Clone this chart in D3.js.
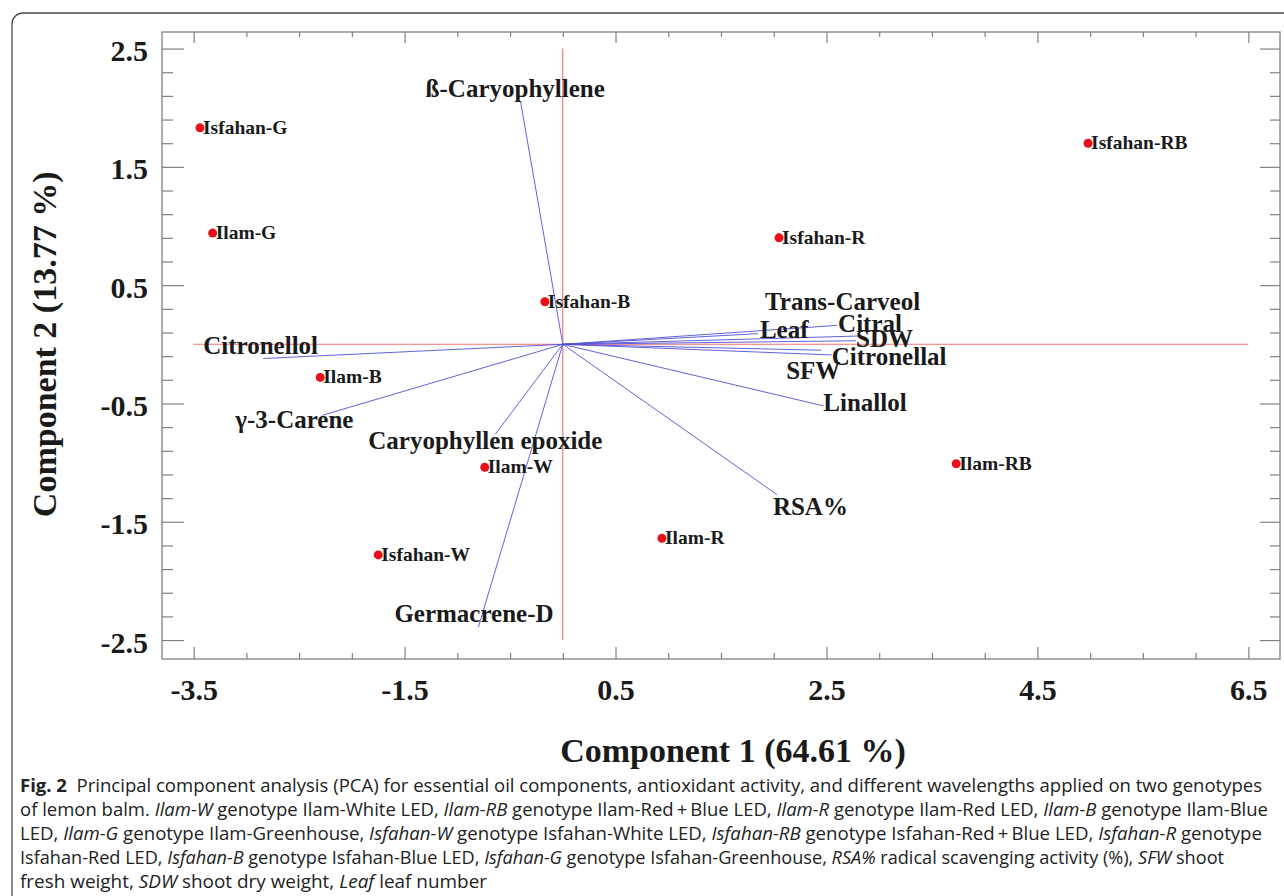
<!DOCTYPE html>
<html>
<head>
<meta charset="utf-8">
<script src="https://cdn.jsdelivr.net/npm/d3@7"></script>
<style>
  html, body { margin: 0; padding: 0; background: #fff; }
  svg { display: block; }
  .tick line { stroke: #808080; stroke-width: 1.2; }
  .tick text { font-family: "Liberation Serif", "Times New Roman", serif; font-weight: bold; font-size: 30px; fill: #1a1a1a; }
</style>
</head>
<body>
<svg id="chart" width="1284" height="896"></svg>
<script>
// PCA scores (component 1, component 2)
var sampleNames = ["Isfahan-G", "Ilam-G", "Isfahan-B", "Isfahan-R", "Isfahan-RB",
                   "Ilam-B", "Ilam-W", "Isfahan-W", "Ilam-R", "Ilam-RB"];
var sampleX = [-3.44, -3.32, -0.17, 2.05, 4.98, -2.30, -0.74, -1.75, 0.94, 3.73];
var sampleY = [1.83, 0.94, 0.36, 0.90, 1.70, -0.28, -1.04, -1.78, -1.64, -1.01];

// loadings (vector tips)
var varNames = ["ß-Caryophyllene", "Citronellol", "γ-3-Carene", "Caryophyllen epoxide",
                "Germacrene-D", "RSA%", "Linallol", "Trans-Carveol", "Citral", "Leaf",
                "SDW", "Citronellal", "SFW"];
var varX = [-0.40, -2.84, -2.28, -0.64, -0.80, 2.03, 2.47, 2.60, 2.80, 1.85, 2.78, 2.55, 2.45];
var varY = [2.05, -0.12, -0.60, -0.76, -2.39, -1.27, -0.52, 0.16, 0.07, 0.09, 0.03, -0.09, -0.05];

var xMajor = [-3.5, -1.5, 0.5, 2.5, 4.5, 6.5];
var yMajor = [-2.5, -1.5, -0.5, 0.5, 1.5, 2.5];

// label placement relative to vector tip (px)
var varLabelOffset = {
  "ß-Caryophyllene": [-95, -5], "Citronellol": [-60, -5], "γ-3-Carene": [-87, 13],
  "Caryophyllen epoxide": [-127, 15], "Germacrene-D": [-84, -5], "RSA%": [-4, 20],
  "Linallol": [0, 5], "Trans-Carveol": [-72, -15], "Citral": [-20, -4], "Leaf": [2, 4],
  "SDW": [0, 6], "Citronellal": [0, 10], "SFW": [-35, 29]
};

var svg = d3.select("#chart");
var plotLeft = 162, plotRight = 1280, plotTop = 32, plotBottom = 659;

var x = d3.scaleLinear().domain([-3.8, 6.8]).range([plotLeft, plotRight]);
var y = d3.scaleLinear().domain([-2.66, 2.64]).range([plotBottom, plotTop]);

var fmt = function(v) { return v.toFixed(1); };   // plain hyphen minus like the original

// outer rounded frame
svg.append("rect")
  .attr("x", 12).attr("y", 13).attr("width", 1290).attr("height", 900)
  .attr("rx", 11).attr("fill", "none").attr("stroke", "#4a4a4a").attr("stroke-width", 1.3);

var xMinor = d3.range(-3.5, 6.51, 0.5).filter(function(v) { return xMajor.indexOf(v) < 0; });
var yMinor = d3.range(-25, 26, 2).map(function(v) { return v / 10; })
  .filter(function(v) { return yMajor.indexOf(v) < 0; });

var drawAxis = function(axis, tx, ty) {
  var g = svg.append("g").attr("transform", "translate(" + tx + "," + ty + ")").call(axis);
  g.select(".domain").remove();
  return g;
};

// bottom
drawAxis(d3.axisBottom(x).tickValues(xMinor).tickSize(-6).tickFormat(""), 0, plotBottom);
drawAxis(d3.axisBottom(x).tickValues(xMajor).tickSize(-12).tickPadding(20).tickFormat(fmt), 0, plotBottom);
// top
drawAxis(d3.axisTop(x).tickValues(xMinor).tickSize(-5).tickFormat(""), 0, plotTop);
drawAxis(d3.axisTop(x).tickValues(xMajor).tickSize(-11).tickFormat(""), 0, plotTop);
// left
drawAxis(d3.axisLeft(y).tickValues(yMinor).tickSize(-11).tickFormat(""), plotLeft, 0);
drawAxis(d3.axisLeft(y).tickValues(yMajor).tickSize(-22).tickPadding(14).tickFormat(fmt), plotLeft, 0)
  .selectAll("text").attr("dy", "0.4em");
// right
drawAxis(d3.axisRight(y).tickValues(yMinor).tickSize(-10).tickFormat(""), plotRight, 0);
drawAxis(d3.axisRight(y).tickValues(yMajor).tickSize(-20).tickFormat(""), plotRight, 0);

// plot box
svg.append("rect")
  .attr("x", plotLeft).attr("y", plotTop)
  .attr("width", plotRight - plotLeft).attr("height", plotBottom - plotTop)
  .attr("fill", "none").attr("stroke", "#808080").attr("stroke-width", 1.3);

// red reference lines
svg.append("line")
  .attr("x1", x(0)).attr("x2", x(0)).attr("y1", y(2.5)).attr("y2", y(-2.5))
  .attr("stroke", "#f07070").attr("stroke-width", 1.1);
svg.append("line")
  .attr("x1", x(-3.5)).attr("x2", x(6.5)).attr("y1", y(0)).attr("y2", y(0))
  .attr("stroke", "#f07070").attr("stroke-width", 1.1);

// loading vectors
var vars = varNames.map(function(n, i) { return { name: n, x: varX[i], y: varY[i] }; });
svg.append("g").selectAll("line")
  .data(vars)
  .enter()
  .append("line")
  .attr("x1", x(0)).attr("y1", y(0))
  .attr("x2", function(d) { return x(d.x); })
  .attr("y2", function(d) { return y(d.y); })
  .attr("stroke", "#5050d8").attr("stroke-width", 0.9);

svg.append("g").selectAll("text")
  .data(vars)
  .enter()
  .append("text")
  .attr("x", function(d) { return x(d.x) + varLabelOffset[d.name][0]; })
  .attr("y", function(d) { return y(d.y) + varLabelOffset[d.name][1]; })
  .attr("font-family", "'Liberation Serif', 'Times New Roman', serif")
  .attr("font-weight", "bold").attr("font-size", 25).attr("fill", "#1a1a1a")
  .text(function(d) { return d.name; });

// score points
var samples = sampleNames.map(function(n, i) { return { name: n, x: sampleX[i], y: sampleY[i] }; });
var pts = svg.append("g").selectAll("g")
  .data(samples)
  .enter()
  .append("g")
  .attr("transform", function(d) { return "translate(" + x(d.x) + "," + y(d.y) + ")"; });
pts.append("circle").attr("r", 4.5).attr("fill", "#e8101a");
pts.append("text")
  .attr("x", 3).attr("y", 6)
  .attr("font-family", "'Liberation Serif', 'Times New Roman', serif")
  .attr("font-weight", "bold").attr("font-size", 19.5).attr("fill", "#1a1a1a")
  .text(function(d) { return d.name; });

// axis titles
svg.append("text")
  .attr("x", (x(-3.5) + x(6.5)) / 2 + 12).attr("y", 762)
  .attr("text-anchor", "middle")
  .attr("font-family", "'Liberation Serif', 'Times New Roman', serif")
  .attr("font-weight", "bold").attr("font-size", 34).attr("fill", "#1a1a1a")
  .text("Component 1 (64.61 %)");
svg.append("text")
  .attr("transform", "translate(56," + y(0) + ") rotate(-90)")
  .attr("text-anchor", "middle")
  .attr("font-family", "'Liberation Serif', 'Times New Roman', serif")
  .attr("font-weight", "bold").attr("font-size", 34).attr("fill", "#1a1a1a")
  .text("Component 2 (13.77 %)");

// caption
var captionLines = [
  [["Fig. 2", "b"], ["  Principal component analysis (PCA) for essential oil components, antioxidant activity, and different wavelengths applied on two genotypes", ""]],
  [["of lemon balm. ", ""], ["Ilam-W", "i"], [" genotype Ilam-White LED, ", ""], ["Ilam-RB", "i"], [" genotype Ilam-Red\u2009+\u2009Blue LED, ", ""], ["Ilam-R", "i"], [" genotype Ilam-Red LED, ", ""], ["Ilam-B", "i"], [" genotype Ilam-Blue", ""]],
  [["LED, ", ""], ["Ilam-G", "i"], [" genotype Ilam-Greenhouse, ", ""], ["Isfahan-W", "i"], [" genotype Isfahan-White LED, ", ""], ["Isfahan-RB", "i"], [" genotype Isfahan-Red\u2009+\u2009Blue LED, ", ""], ["Isfahan-R", "i"], [" genotype", ""]],
  [["Isfahan-Red LED, ", ""], ["Isfahan-B", "i"], [" genotype Isfahan-Blue LED, ", ""], ["Isfahan-G", "i"], [" genotype Isfahan-Greenhouse, ", ""], ["RSA%", "i"], [" radical scavenging activity (%), ", ""], ["SFW", "i"], [" shoot", ""]],
  [["fresh weight, ", ""], ["SDW", "i"], [" shoot dry weight, ", ""], ["Leaf", "i"], [" leaf number", ""]]
];
var captionWidths = [1242, 1248, 1242, 1204, 467];

captionLines.forEach(function(line, i) {
  var t = svg.append("text")
    .attr("x", 20).attr("y", 792 + i * 24)
    .attr("font-family", "'Open Sans', 'Noto Sans', sans-serif")
    .attr("font-size", 18).attr("fill", "#222")
    .attr("textLength", captionWidths[i]).attr("lengthAdjust", "spacingAndGlyphs")
    .attr("xml:space", "preserve");
  line.forEach(function(seg) {
    var s = t.append("tspan").text(seg[0]);
    if (seg[1] === "b") s.attr("font-weight", "bold");
    if (seg[1] === "i") s.attr("font-style", "italic");
  });
});
</script>
</body>
</html>
